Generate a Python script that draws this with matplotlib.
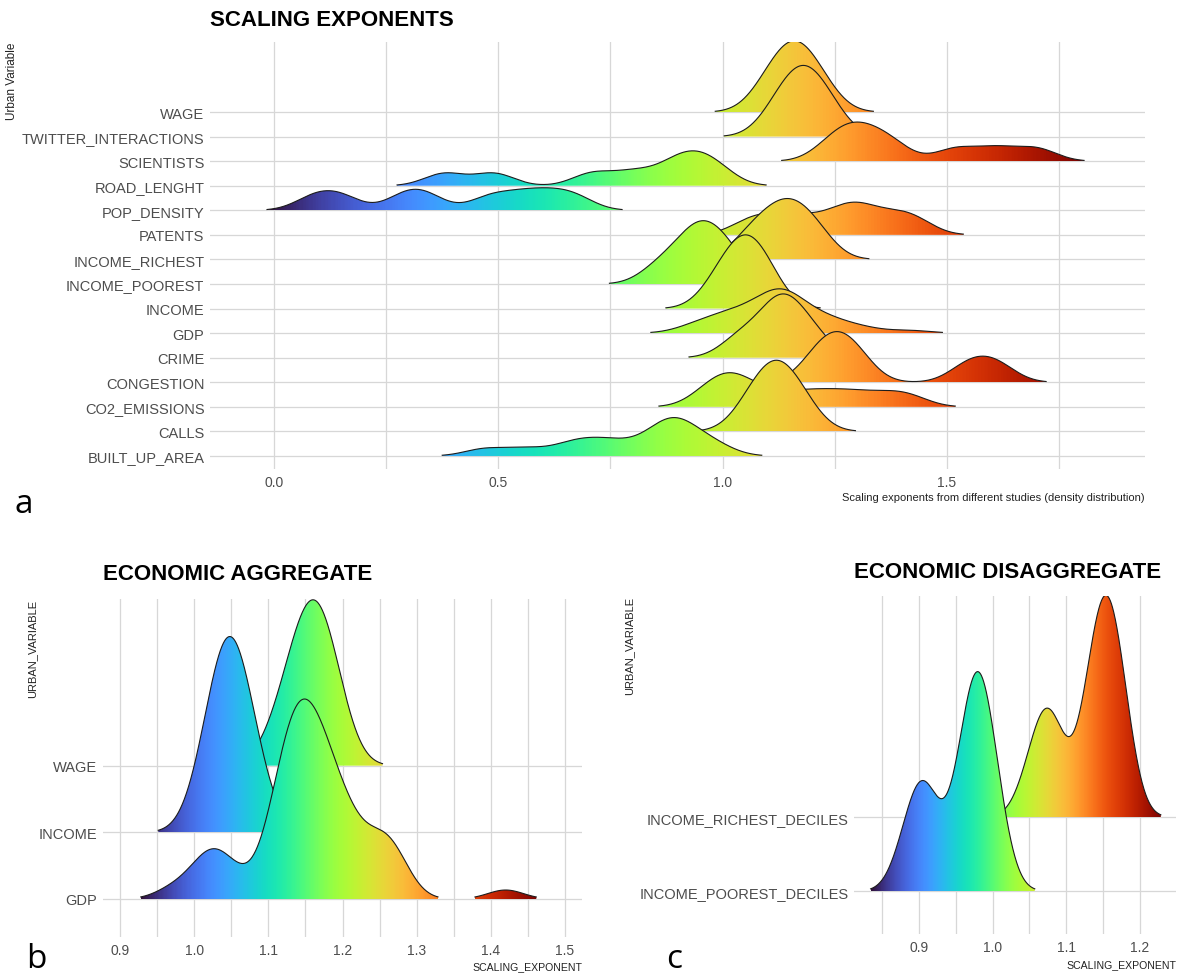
import numpy as np
import matplotlib.pyplot as plt
from matplotlib.patches import Polygon
from matplotlib.ticker import FormatStrFormatter

plt.rcParams['font.family'] = ['Liberation Sans', 'DejaVu Sans']

# panel a: scaling exponents collected from different studies
variables_a = ['BUILT_UP_AREA', 'CALLS', 'CO2_EMISSIONS', 'CONGESTION', 'CRIME', 'GDP',
               'INCOME', 'INCOME_POOREST', 'INCOME_RICHEST', 'PATENTS', 'POP_DENSITY',
               'ROAD_LENGHT', 'SCIENTISTS', 'TWITTER_INTERACTIONS', 'WAGE']
built_up_area = [0.47, 0.56, 0.65, 0.69, 0.73, 0.77, 0.83, 0.86, 0.88, 0.89, 0.90, 0.92, 0.95, 0.99]
calls = [1.06, 1.10, 1.12, 1.14, 1.18]
co2_emissions = [0.96, 0.99, 1.01, 1.03, 1.05, 1.10, 1.16, 1.21, 1.26, 1.31, 1.37, 1.42]
congestion = [1.21, 1.24, 1.27, 1.30, 1.55, 1.61]
crime = [1.04, 1.11, 1.13, 1.15, 1.20]
gdp = [0.92, 0.95, 0.96, 0.98, 0.99, 1.01, 1.02, 1.03, 1.04, 1.05, 1.06, 1.07, 1.08, 1.09,
       1.10, 1.11, 1.11, 1.12, 1.12, 1.12, 1.13, 1.13, 1.14, 1.14, 1.14, 1.15, 1.15, 1.16,
       1.17, 1.18, 1.19, 1.21, 1.22, 1.23, 1.24, 1.27, 1.29, 1.33, 1.42]
income = [0.99, 1.03, 1.05, 1.07, 1.10]
income_poorest = [0.86, 0.92, 0.94, 0.96, 0.99, 1.02]
income_richest = [1.06, 1.11, 1.14, 1.17, 1.21]
patents = [1.06, 1.12, 1.18, 1.25, 1.29, 1.32, 1.38, 1.43]
pop_density = [0.09, 0.15, 0.29, 0.34, 0.48, 0.55, 0.61, 0.67]
road_lenght = [0.38, 0.49, 0.71, 0.80, 0.88, 0.92, 0.95, 0.99]
scientists = [1.24, 1.28, 1.30, 1.34, 1.38, 1.52, 1.61, 1.70]
twitter_interactions = [1.12, 1.16, 1.18, 1.20, 1.24]
wage = [1.10, 1.14, 1.16, 1.18, 1.22]

# panel b: economic aggregates (exponent, number of estimates)
variables_b = ['GDP', 'INCOME', 'WAGE']
gdp_b = [0.97, 1.00, 1.02, 1.04, 1.06, 1.10, 1.12, 1.14, 1.16, 1.18, 1.20, 1.22, 1.24,
         1.25, 1.26, 1.27, 1.28, 1.42]
gdp_b_n = [1, 1, 3, 2, 1, 2, 7, 9, 8, 6, 4, 3, 1, 1, 3, 1, 1, 1]
income_b = [1.00, 1.02, 1.04, 1.06, 1.08, 1.10]
income_b_n = [1, 5, 10, 9, 4, 1]
wage_b = [1.10, 1.12, 1.14, 1.16, 1.18, 1.20]
wage_b_n = [1, 3, 6, 8, 7, 2]

# panel c: income deciles
variables_c = ['INCOME_POOREST_DECILES', 'INCOME_RICHEST_DECILES']
poorest_deciles = [0.88, 0.90, 0.90, 0.91, 0.92, 0.95, 0.96, 0.97, 0.97, 0.98, 0.98,
                   0.98, 0.99, 0.99, 1.00, 1.01]
richest_deciles = [1.05, 1.07, 1.07, 1.08, 1.09, 1.13, 1.13, 1.14, 1.15, 1.15, 1.15,
                   1.16, 1.16, 1.17, 1.17, 1.18]

W, H = 1181, 978
GRID = '#d7d7d7'
TICK = '#4d4d4d'


def fx(px):
    return px / W


def fy(py):
    return 1 - py / H


def kde(values, counts, xs, bw, per_group):
    v = np.repeat(values, counts)
    z = (xs[:, None] - v[None, :]) / bw
    d = np.exp(-0.5 * z ** 2).sum(axis=1) / (bw * np.sqrt(2 * np.pi))
    return d / len(v) if per_group else d


def ridgeline(ax, groups, bw, per_group=True, scale=3.0, rel_min=0.01):
    curves = []
    for values, counts in groups:
        if counts is None:
            counts = np.ones(len(values), dtype=int)
        xs = np.linspace(min(values) - 4 * bw, max(values) + 4 * bw, 800)
        curves.append((xs, kde(values, counts, xs, bw, per_group)))
    top = max(d.max() for _, d in curves)

    # drop the tails below rel_min of the tallest ridge, like ggridges does
    parts = []
    for xs, d in curves:
        idx = np.flatnonzero(d > rel_min * top)
        runs = np.split(idx, np.flatnonzero(np.diff(idx) > 1) + 1)
        parts.append([(xs[r], d[r] / top * scale) for r in runs])
    lo = min(x[0] for ps in parts for x, _ in ps)
    hi = max(x[-1] for ps in parts for x, _ in ps)
    norm = plt.Normalize(lo, hi)

    z = 2
    for i in range(len(parts) - 1, -1, -1):
        base = i + 1
        for x, h in parts[i]:
            verts = np.column_stack([np.r_[x[0], x, x[-1]], np.r_[base, base + h, base]])
            poly = Polygon(verts, closed=True, facecolor='none', edgecolor='none', zorder=z)
            ax.add_patch(poly)
            grad = ax.imshow(np.linspace(x[0], x[-1], 256)[None, :], cmap='turbo', norm=norm,
                             extent=[x[0], x[-1], base, base + h.max()], origin='lower',
                             aspect='auto', interpolation='bilinear', zorder=z)
            grad.set_clip_path(poly)
            ax.plot(x, base + h, color='#1c1c1c', lw=0.8, zorder=z + 0.5)
            z += 1


def style(ax, labels, xlim, ylim, major, minor):
    ax.set_xlim(xlim)
    ax.set_ylim(ylim)
    ax.set_xticks(major)
    ax.set_xticks(minor, minor=True)
    ax.xaxis.set_major_formatter(FormatStrFormatter('%.1f'))
    ax.set_yticks(range(1, len(labels) + 1))
    ax.set_yticklabels(labels)
    ax.grid(which='both', axis='x', color=GRID, lw=0.9)
    ax.grid(which='major', axis='y', color=GRID, lw=0.9)
    ax.set_axisbelow(True)
    for s in ax.spines.values():
        s.set_visible(False)
    ax.tick_params(which='both', length=0, colors=TICK, labelsize=10.5, pad=4)
    ax.tick_params(axis='x', labelsize=10)


fig = plt.figure(figsize=(W / 100, H / 100), dpi=100)

# a
ax_a = fig.add_axes([fx(210), fy(470), (1145 - 210) / W, (470 - 43) / H])
groups_a = [(built_up_area, None), (calls, None), (co2_emissions, None), (congestion, None),
            (crime, None), (gdp, None), (income, None), (income_poorest, None),
            (income_richest, None), (patents, None), (pop_density, None), (road_lenght, None),
            (scientists, None), (twitter_interactions, None), (wage, None)]
ridgeline(ax_a, groups_a, bw=0.045)
style(ax_a, variables_a, (-0.143, 1.942), (0.47, 17.85),
      [0.0, 0.5, 1.0, 1.5], [0.25, 0.75, 1.25, 1.75])

# b
ax_b = fig.add_axes([fx(103), fy(938), (582 - 103) / W, (938 - 600) / H])
groups_b = [(gdp_b, gdp_b_n), (income_b, income_b_n), (wage_b, wage_b_n)]
ridgeline(ax_b, groups_b, bw=0.024, per_group=False)
style(ax_b, variables_b, (0.877, 1.523), (0.43, 5.5),
      np.arange(0.9, 1.51, 0.1), np.arange(0.95, 1.5, 0.1))

# c
ax_c = fig.add_axes([fx(854), fy(935), (1176 - 854) / W, (935 - 597) / H])
groups_c = [(poorest_deciles, None), (richest_deciles, None)]
ridgeline(ax_c, groups_c, bw=0.02)
style(ax_c, variables_c, (0.812, 1.249), (0.42, 4.99),
      [0.9, 1.0, 1.1, 1.2], [0.85, 0.95, 1.05, 1.15])

title_kw = dict(fontsize=16, fontweight='bold', va='center', ha='left', color='black')
ylab_kw = dict(rotation=90, va='top', ha='center', color='#222222')
letter_kw = dict(fontsize=24, family=['Open Sans', 'DejaVu Sans'], va='bottom', ha='left')

fig.text(fx(210), fy(20), 'SCALING EXPONENTS', **title_kw)
fig.text(fx(12), fy(43), 'Urban Variable', fontsize=8.5, **ylab_kw)
fig.text(fx(1145), fy(498), 'Scaling exponents from different studies (density distribution)',
         ha='right', va='center', fontsize=8, color='#222222')
fig.text(fx(15), fy(521), 'a', **letter_kw)

fig.text(fx(103), fy(575), 'ECONOMIC AGGREGATE', **title_kw)
fig.text(fx(32), fy(600), 'URBAN_VARIABLE', fontsize=8, **ylab_kw)
fig.text(fx(582), fy(967), 'SCALING_EXPONENT', ha='right', va='center', fontsize=7.6,
         color='#222222')
fig.text(fx(26), fy(976), 'b', **letter_kw)

fig.text(fx(854), fy(573), 'ECONOMIC DISAGGREGATE', **title_kw)
fig.text(fx(629), fy(597), 'URBAN_VARIABLE', fontsize=8, **ylab_kw)
fig.text(fx(1176), fy(965), 'SCALING_EXPONENT', ha='right', va='center', fontsize=7.6,
         color='#222222')
fig.text(fx(666), fy(976), 'c', **letter_kw)

fig.savefig('out.png', dpi=100)
